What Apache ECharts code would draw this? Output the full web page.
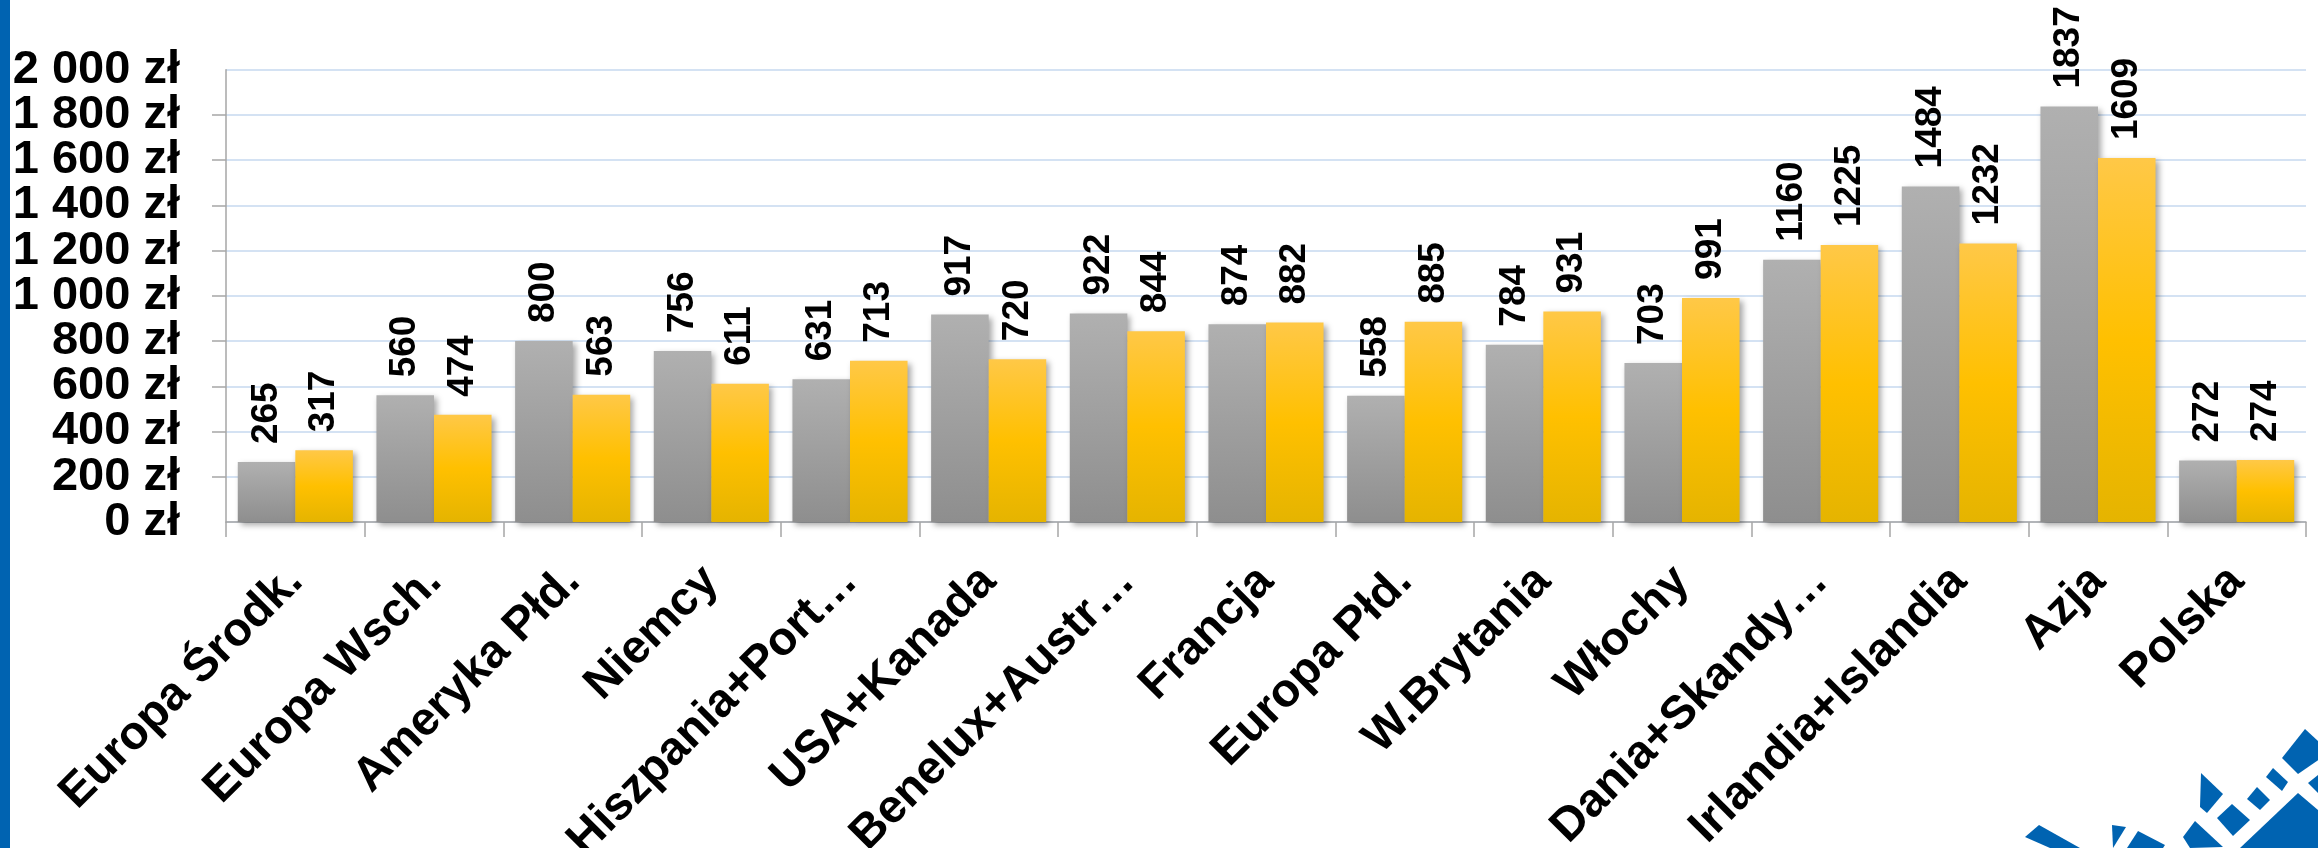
<!DOCTYPE html>
<html>
<head>
<meta charset="utf-8">
<script src="https://cdn.jsdelivr.net/npm/echarts@6/dist/echarts.min.js"></script>
<style>
  html, body { margin: 0; padding: 0; background: #fff; }
  #chart { width: 2318px; height: 848px; }
</style>
</head>
<body>
<div id="chart"></div>
<script>
// dane wykresu
const categories = ['Europa Środk.', 'Europa Wsch.', 'Ameryka Płd.', 'Niemcy', 'Hiszpania+Port…',
  'USA+Kanada', 'Benelux+Austr…', 'Francja', 'Europa Płd.', 'W.Brytania', 'Włochy',
  'Dania+Skandy…', 'Irlandia+Islandia', 'Azja', 'Polska']
const grayValues = [265, 560, 800, 756, 631, 917, 922, 874, 558, 784, 703, 1160, 1484, 1837, 272]
const yellowValues = [317, 474, 563, 611, 713, 720, 844, 882, 885, 931, 991, 1225, 1232, 1609, 274]
const yTicks = [0, 200, 400, 600, 800, 1000, 1200, 1400, 1600, 1800, 2000]

const font = '"Liberation Sans", Arial, sans-serif'
const blue = '#0063b1'
const yMin = yTicks[0]
const yMax = yTicks[yTicks.length - 1]

function zl(v) {
  return String(v).replace(/\B(?=(\d{3})+(?!\d))/g, ' ') + ' zł'
}

const gradient = (stops) => new echarts.graphic.LinearGradient(0, 0, 0, 1, stops)

const yLabelStyle = {
  margin: 46,
  fontFamily: font,
  fontWeight: 'bold',
  fontSize: 47,
  color: '#000'
}

const barLabel = {
  show: true,
  position: 'top',
  distance: 18,
  rotate: 90,
  align: 'left',
  verticalAlign: 'middle',
  fontFamily: font,
  fontWeight: 'bold',
  fontSize: 37,
  color: '#000'
}

const barShadow = {
  shadowBlur: 6,
  shadowColor: 'rgba(0,0,0,0.35)',
  shadowOffsetX: 3,
  shadowOffsetY: 3
}

// logo w prawym dolnym rogu (dekoracja)
const logoShapes = [
  [[2282, 758], [2305, 729], [2330, 752], [2298, 774]],
  [[2266, 777], [2273, 768], [2288, 782], [2282, 791]],
  [[2247, 799], [2257, 787], [2270, 800], [2260, 810]],
  [[2217, 818], [2232, 804], [2250, 820], [2233, 836]],
  [[2240, 848], [2298, 793], [2318, 810], [2318, 848]],
  [[2308, 783], [2318, 775], [2318, 793]],
  [[2201, 773], [2223, 794], [2207, 813], [2200, 807]],
  [[2183, 837], [2195, 821], [2223, 847], [2190, 848]],
  [[2112, 825], [2126, 827], [2113, 848]],
  [[2138, 831], [2165, 845], [2163, 848], [2127, 848]],
  [[2025, 837], [2039, 825], [2080, 848], [2050, 848]]
]

const chart = echarts.init(document.getElementById('chart'))
chart.setOption({
  animation: false,
  grid: {
    left: 226, right: 12, top: 69.7, bottom: 326,
    containLabel: false,
    outerBoundsMode: 'none'
  },
  xAxis: {
    type: 'category',
    data: categories,
    axisLine: { lineStyle: { color: '#a6a6a6', width: 1.5 } },
    axisTick: { show: true, interval: 0, length: 15, lineStyle: { color: '#a6a6a6', width: 1.5 } },
    axisLabel: {
      interval: 0,
      rotate: 45,
      margin: 52,
      fontFamily: font,
      fontWeight: 'bold',
      fontSize: 47,
      color: '#000'
    }
  },
  yAxis: [
    {
      // główna oś: linie, znaczniki i etykiety pośrednie
      type: 'value',
      position: 'left',
      min: yMin,
      max: yMax,
      interval: 200,
      axisLine: { show: true, lineStyle: { color: '#a6a6a6', width: 1.5 } },
      axisTick: { show: true, length: 14, lineStyle: { color: '#a6a6a6', width: 1.5 } },
      splitLine: { lineStyle: { color: '#c6d9ef', width: 1.5 } },
      axisLabel: Object.assign({ formatter: zl }, yLabelStyle)
    },
    {
      // tylko etykiety skrajne (0 zł i 2 000 zł)
      type: 'value',
      position: 'left',
      min: yMin,
      max: yMax,
      interval: 200,
      axisLine: { show: false },
      axisTick: { show: false },
      splitLine: { show: false },
      axisLabel: Object.assign({
        showMinLabel: true,
        showMaxLabel: true,
        formatter: v => (v === yMin || v === yMax) ? zl(v) : ''
      }, yLabelStyle)
    }
  ],
  series: [
    {
      name: 'Seria 1',
      type: 'bar',
      yAxisIndex: 0,
      data: grayValues,
      barGap: '0%',
      barCategoryGap: '17%',
      itemStyle: Object.assign({
        color: gradient([
          { offset: 0, color: '#b0b0b0' },
          { offset: 1, color: '#8e8e8e' }
        ])
      }, barShadow),
      label: barLabel
    },
    {
      name: 'Seria 2',
      type: 'bar',
      yAxisIndex: 0,
      data: yellowValues,
      barGap: '0%',
      barCategoryGap: '17%',
      itemStyle: Object.assign({
        color: gradient([
          { offset: 0, color: '#ffc847' },
          { offset: 0.5, color: '#ffc000' },
          { offset: 1, color: '#e5b400' }
        ])
      }, barShadow),
      label: barLabel
    }
  ],
  graphic: [
    { type: 'rect', shape: { x: 0, y: 0, width: 10, height: 848 }, style: { fill: blue } }
  ].concat(logoShapes.map(pts => ({
    type: 'polygon', shape: { points: pts }, style: { fill: blue }
  })))
})
</script>
</body>
</html>
